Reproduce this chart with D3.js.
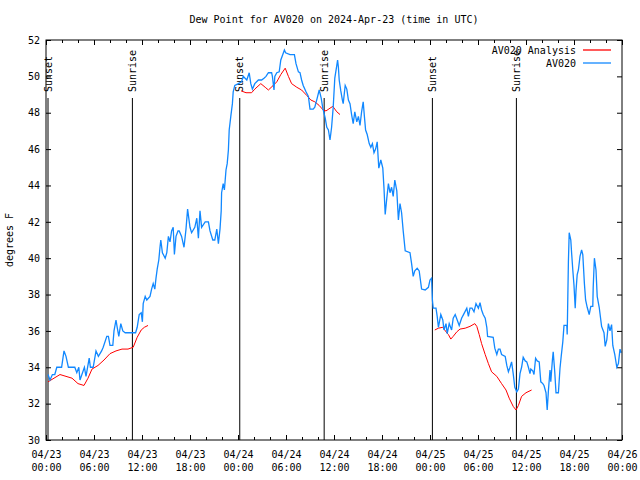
<!DOCTYPE html>
<html>
<head>
<meta charset="utf-8">
<script src="https://cdn.jsdelivr.net/npm/d3@7"></script>
<style>
  body { margin: 0; background: #fff; }
  svg text { font-family: "DejaVu Sans Mono", monospace; font-size: 10px; fill: #000; }
</style>
</head>
<body>
<svg id="chart" width="640" height="480"></svg>
<script>
// hours since 2024-04-23 00:00 UTC
const start = Date.UTC(2024, 3, 23);

const obsHours = [0.25,0.5,0.8,1.1,1.35,1.95,2.25,2.5,2.8,3.6,3.85,4.1,4.25,4.8,5.0,5.4,5.55,5.9,6.25,6.55,6.95,7.15,7.6,7.8,8.0,8.35,8.5,8.75,8.9,9.1,9.35,9.6,9.9,10.7,11.2,11.4,11.65,11.9,12.05,12.15,12.4,12.6,13.0,13.2,13.4,13.6,13.75,13.9,14.1,14.25,14.35,14.55,14.9,15.1,15.3,15.5,15.7,15.9,16.05,16.25,16.5,16.65,16.95,17.25,17.5,17.7,18.0,18.2,18.6,18.85,19.05,19.25,19.45,19.9,20.3,20.5,20.85,21.1,21.35,21.55,21.75,21.9,21.95,22.15,22.3,22.5,22.65,22.8,22.9,23.1,23.3,23.4,23.6,24.05,24.45,24.65,25.1,25.4,25.6,25.8,26.1,26.55,26.95,27.25,27.5,27.8,28.2,28.3,28.5,28.6,28.85,29.15,29.35,29.6,29.8,29.95,30.5,31.05,31.25,31.55,31.75,31.95,32.15,32.5,32.8,33.0,33.4,33.6,33.9,34.15,34.4,34.6,34.9,35.1,35.3,35.5,35.7,35.9,36.1,36.35,36.45,36.55,36.65,36.85,37.05,37.15,37.4,37.6,37.8,38.0,38.2,38.4,38.6,38.85,39.05,39.25,39.45,39.65,39.8,39.95,40.15,40.4,40.6,40.8,41.0,41.2,41.4,41.6,41.85,42.1,42.25,42.4,42.6,42.8,43.0,43.2,43.4,43.6,43.85,44.05,44.25,44.45,44.65,44.9,45.5,45.7,45.9,46.1,46.4,46.65,46.95,47.4,47.8,48.0,48.2,48.3,48.4,48.75,48.9,49.05,49.35,49.6,49.75,50.0,50.15,50.4,50.7,50.9,51.15,51.4,51.65,51.95,52.25,52.6,52.8,53.0,53.25,53.5,53.75,54.05,54.25,54.45,54.65,54.9,55.1,55.2,55.9,56.1,56.35,56.55,56.75,56.95,57.4,57.6,57.8,58.0,58.2,58.4,58.6,58.85,59.05,59.25,59.45,59.65,59.9,60.1,60.3,60.5,60.6,60.85,61.0,61.2,61.4,61.65,61.85,62.1,62.25,62.5,62.65,62.8,63.0,63.1,63.3,63.4,63.6,63.75,64.05,64.25,64.4,64.6,64.75,65.1,65.15,65.3,65.4,65.6,65.7,65.85,66.0,66.15,66.25,66.4,66.55,66.75,66.95,67.1,67.3,67.45,67.65,67.9,68.1,68.35,68.4,68.55,68.75,68.9,69.15,69.45,69.75,69.9,70.1,70.3,70.5,70.7,70.85,71.1,71.35,71.55,71.75,71.9];
const obsValues = [33.6,33.3,33.6,33.6,34.0,34.0,34.9,34.6,34.0,34.0,33.7,34.0,33.3,34.0,33.5,34.5,34.0,34.0,34.9,34.6,34.9,35.1,35.7,35.7,35.2,35.2,36.0,36.6,36.2,35.7,36.4,36.0,35.9,35.9,35.9,36.2,36.9,37.0,36.5,37.5,37.9,37.7,37.9,38.3,38.6,38.3,38.9,39.4,39.9,40.6,41.0,40.3,40.0,40.3,41.2,40.9,41.5,41.7,40.2,41.2,41.5,41.5,41.2,40.6,41.6,42.7,41.7,41.4,41.7,42.2,41.1,42.6,41.7,42.0,42.0,41.5,41.0,41.0,41.6,40.8,41.6,42.6,43.6,44.1,43.75,44.85,45.2,45.95,47.05,47.8,48.5,49.15,49.5,49.6,49.7,50.0,49.8,50.2,49.6,49.3,49.6,49.8,49.8,49.9,50.0,50.2,50.2,50.0,49.25,50.0,50.2,50.25,50.9,51.2,51.45,51.3,51.2,51.2,50.7,50.25,50.2,49.8,49.5,49.15,48.9,48.2,48.2,48.3,48.8,49.25,48.8,48.25,47.7,47.2,47.05,46.5,47.2,48.3,49.9,50.6,50.9,50.5,49.8,49.2,48.7,48.5,49.5,49.3,48.7,48.5,47.9,47.4,48.05,47.5,47.8,47.3,48.05,48.6,47.8,47.05,46.8,46.3,46.1,46.3,45.8,46.0,46.4,44.95,45.4,44.95,43.85,42.4,43.3,44.1,43.6,43.9,43.4,44.3,43.7,42.1,43.0,42.5,41.5,40.4,40.3,39.7,39.0,39.3,39.45,39.3,38.3,38.25,38.4,38.8,38.9,37.7,37.25,37.25,36.8,36.2,36.9,36.6,36.05,36.4,35.85,36.4,36.05,36.7,36.9,36.6,36.3,36.7,36.95,37.25,36.8,37.25,37.25,37.05,37.5,37.25,37.55,37.15,36.9,36.7,36.2,35.7,35.65,35.05,34.7,35.0,35.0,34.7,34.6,34.1,33.75,34.0,34.3,33.65,32.9,32.65,32.8,33.65,34.0,34.55,34.35,34.3,34.0,33.65,33.9,33.8,33.6,34.5,34.35,34.3,33.2,33.1,33.0,32.6,31.65,32.7,33.85,33.2,34.4,34.85,33.7,32.6,32.6,33.95,34.6,35.4,36.3,36.3,35.8,39.8,41.4,41.0,40.3,39.35,38.5,37.25,38.2,39.1,39.35,40.1,40.45,40.2,38.6,37.7,37.3,36.9,37.35,37.35,38.4,40.0,39.35,37.9,37.3,36.25,35.9,35.15,35.5,36.4,36.0,36.35,35.2,34.7,34.0,34.2,35.0,34.8];

// analysis series, null marks a gap
const anaHours = [0.25,1,1.75,2.5,3.25,4,4.75,5.25,5.75,6.5,7.25,8,8.75,9.5,10.25,10.9,11.4,11.9,12.3,12.75,
  null,
  24.4,25.0,25.7,26.1,26.85,27.4,27.8,28.4,28.85,29.35,29.9,30.3,30.7,31.35,31.95,32.6,33.1,33.6,34.15,34.65,35.0,35.5,35.85,36.35,36.75,
  null,
  48.6,49.05,49.6,50.0,50.3,50.6,50.9,51.35,51.75,52.4,53.0,53.6,53.85,54.15,54.45,54.9,55.3,55.7,56.35,56.95,57.5,57.9,58.4,58.75,59.05,59.45,60.0,60.7];
const anaValues = [33.2,33.4,33.6,33.5,33.4,33.1,33.0,33.4,33.9,34.1,34.4,34.75,34.9,35.0,35.0,35.1,35.65,36.05,36.2,36.3,
  null,
  49.2,49.1,49.1,49.3,49.6,49.4,49.25,49.5,49.7,50.1,50.45,50.0,49.6,49.4,49.25,48.95,48.7,48.6,48.4,48.15,48.1,48.25,48.35,48.05,47.9,
  null,
  36.05,36.15,36.2,35.95,35.8,35.55,35.7,35.95,36.1,36.15,36.25,36.4,36.25,35.8,35.3,34.7,34.2,33.75,33.5,33.1,32.75,32.3,31.85,31.65,31.9,32.4,32.6,32.75];

const sunLabels = ['Sunset', 'Sunrise', 'Sunset', 'Sunrise', 'Sunset', 'Sunrise'];
const sunHours = [0.25, 10.8, 24.22, 34.77, 48.3, 58.8];

const yTicks = d3.range(30, 53, 2);
const seriesNames = ['AV020 Analysis', 'AV020'];
const seriesColors = ['#ff0000', '#1188ff'];

const toDate = h => new Date(start + h * 3600e3);

const margin = { top: 40, right: 18, bottom: 40, left: 46 };
const width = 640, height = 480;
const innerW = width - margin.left - margin.right;
const innerH = height - margin.top - margin.bottom;

const svg = d3.select('#chart');
const g = svg.append('g').attr('transform', `translate(${margin.left},${margin.top})`);

const x = d3.scaleUtc().domain([toDate(0), toDate(72)]).range([0, innerW]);
const y = d3.scaleLinear().domain([30, 52]).range([innerH, 0]);

// title
svg.append('text')
  .attr('x', margin.left + innerW / 2)
  .attr('y', 23)
  .attr('text-anchor', 'middle')
  .text('Dew Point for AV020 on 2024-Apr-23 (time in UTC)');

// y label
svg.append('text')
  .attr('transform', `translate(13, ${margin.top + innerH / 2}) rotate(-90)`)
  .attr('text-anchor', 'middle')
  .text('degrees F');

const fmtDay = d3.utcFormat('%m/%d');
const fmtTime = d3.utcFormat('%H:%M');

// bottom axis with inward ticks
const xAxis = g.append('g')
  .attr('transform', `translate(0,${innerH})`)
  .call(d3.axisBottom(x).ticks(d3.utcHour.every(6)).tickSizeInner(-5).tickSizeOuter(0).tickPadding(9).tickFormat(''));
xAxis.selectAll('.tick').append('text')
  .attr('y', 18)
  .attr('text-anchor', 'middle')
  .each(function(d) {
    const t = d3.select(this);
    t.append('tspan').attr('x', 0).text(fmtDay(d));
    t.append('tspan').attr('x', 0).attr('dy', 13).text(fmtTime(d));
  });
g.append('g')
  .attr('transform', `translate(0,${innerH})`)
  .call(d3.axisBottom(x).ticks(d3.utcHour.every(2)).tickSizeInner(-3).tickSizeOuter(0).tickFormat(''));

// top mirror ticks
g.append('g')
  .call(d3.axisTop(x).ticks(d3.utcHour.every(6)).tickSizeInner(-5).tickSizeOuter(0).tickFormat(''));
g.append('g')
  .call(d3.axisTop(x).ticks(d3.utcHour.every(2)).tickSizeInner(-3).tickSizeOuter(0).tickFormat(''));

// y axes
g.append('g')
  .call(d3.axisLeft(y).tickValues(yTicks).tickSizeInner(-5).tickSizeOuter(0).tickPadding(6).tickFormat(d3.format('d')));
g.append('g')
  .attr('transform', `translate(${innerW},0)`)
  .call(d3.axisRight(y).tickValues(yTicks).tickSizeInner(-5).tickSizeOuter(0).tickFormat(''));

g.selectAll('.domain').remove();
g.selectAll('.tick line').attr('stroke', '#000');
g.selectAll('.tick text').attr('font-family', null).attr('font-size', null);

// sunrise / sunset markers
sunHours.forEach((h, i) => {
  const sx = x(toDate(h));
  g.append('line')
    .attr('x1', sx).attr('x2', sx)
    .attr('y1', 58).attr('y2', innerH)
    .attr('stroke', '#000').attr('stroke-width', 1);
  g.append('text')
    .attr('transform', `translate(${sx + 3.5},${52}) rotate(-90)`)
    .attr('text-anchor', 'start')
    .text(sunLabels[i]);
});

// data lines
const obs = obsHours.map((h, i) => ({ t: toDate(h), v: obsValues[i] }));
const ana = anaHours.map((h, i) => ({ t: h == null ? null : toDate(h), v: anaValues[i] }));

const line = d3.line()
  .defined(d => d.v != null)
  .x(d => x(d.t))
  .y(d => y(d.v));

g.append('path')
  .datum(ana)
  .attr('fill', 'none')
  .attr('stroke', seriesColors[0])
  .attr('stroke-width', 1)
  .attr('d', line);

g.append('path')
  .datum(obs)
  .attr('fill', 'none')
  .attr('stroke', seriesColors[1])
  .attr('stroke-width', 1.3)
  .attr('d', line);

// border
g.append('rect')
  .attr('width', innerW).attr('height', innerH)
  .attr('fill', 'none').attr('stroke', '#000').attr('stroke-width', 1);

// legend
seriesNames.forEach((name, i) => {
  const ly = 10 + i * 13;
  g.append('text')
    .attr('x', 530).attr('y', ly)
    .attr('dy', '0.35em')
    .attr('text-anchor', 'end')
    .text(name);
  g.append('line')
    .attr('x1', 537).attr('x2', 565)
    .attr('y1', ly).attr('y2', ly)
    .attr('stroke', seriesColors[i]).attr('stroke-width', 1.3);
});
</script>
</body>
</html>
